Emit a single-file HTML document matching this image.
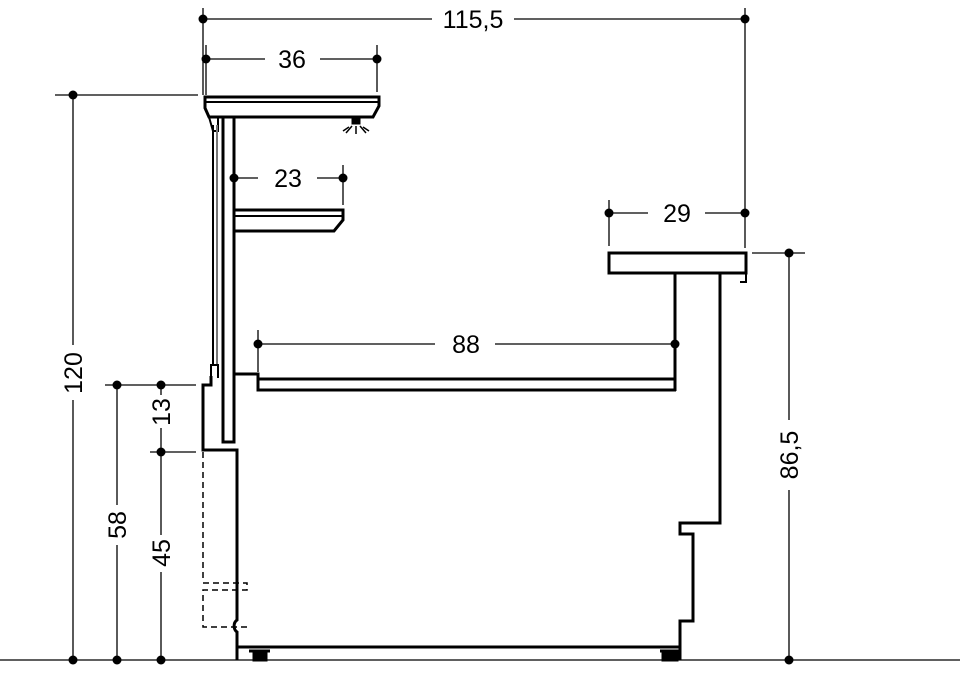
<!DOCTYPE html>
<html><head><style>html,body{margin:0;padding:0;background:#fff}svg{display:block}text{font-family:"Liberation Sans",Arial,sans-serif;font-size:25px;fill:#000}</style></head><body>
<svg width="960" height="680" viewBox="0 0 960 680" xmlns="http://www.w3.org/2000/svg">
<g stroke="#000" fill="none" stroke-width="1.3">
<line x1="0" y1="660" x2="960" y2="660"/>
<!-- top dim -->
<line x1="203" y1="19" x2="432" y2="19"/><line x1="514" y1="19" x2="745" y2="19"/>
<line x1="203" y1="8" x2="203" y2="95"/><line x1="745" y1="8" x2="745" y2="248"/>
<line x1="206" y1="59" x2="265" y2="59"/><line x1="320" y1="59" x2="377" y2="59"/>
<line x1="206" y1="45" x2="206" y2="95"/><line x1="377" y1="45" x2="377" y2="92"/>
<line x1="234" y1="178" x2="258" y2="178"/><line x1="317" y1="178" x2="343" y2="178"/>
<line x1="343" y1="165" x2="343" y2="205"/>
<line x1="258" y1="344" x2="435" y2="344"/><line x1="495" y1="344" x2="675" y2="344"/>
<line x1="258" y1="330" x2="258" y2="372"/>
<line x1="609" y1="213" x2="648" y2="213"/><line x1="705" y1="213" x2="745" y2="213"/>
<line x1="609" y1="200" x2="609" y2="246"/>
<!-- left dims -->
<line x1="55" y1="95" x2="198" y2="95"/>
<line x1="73" y1="95" x2="73" y2="345"/><line x1="73" y1="400" x2="73" y2="660"/>
<line x1="105" y1="385" x2="196" y2="385"/><line x1="150" y1="452" x2="196" y2="452"/>
<line x1="117" y1="385" x2="117" y2="505"/><line x1="117" y1="545" x2="117" y2="660"/>
<line x1="161" y1="385" x2="161" y2="395"/><line x1="161" y1="428" x2="161" y2="452"/>
<line x1="161" y1="452" x2="161" y2="535"/><line x1="161" y1="572" x2="161" y2="660"/>
<line x1="752" y1="253" x2="805" y2="253"/>
<line x1="789" y1="253" x2="789" y2="420"/><line x1="789" y1="490" x2="789" y2="660"/>
</g>
<g fill="#000">
<circle cx="203" cy="19" r="4.5"/><circle cx="745" cy="19" r="4.5"/>
<circle cx="206" cy="59" r="4.5"/><circle cx="377" cy="59" r="4.5"/>
<circle cx="234" cy="178" r="4.5"/><circle cx="343" cy="178" r="4.5"/>
<circle cx="258" cy="344" r="4.5"/><circle cx="675" cy="344" r="4.5"/>
<circle cx="609" cy="213" r="4.5"/><circle cx="745" cy="213" r="4.5"/>
<circle cx="73" cy="95" r="4.5"/><circle cx="73" cy="660" r="4.5"/>
<circle cx="117" cy="385" r="4.5"/><circle cx="117" cy="660" r="4.5"/>
<circle cx="161" cy="385" r="4.5"/><circle cx="161" cy="452" r="4.5"/><circle cx="161" cy="660" r="4.5"/>
<circle cx="789" cy="253" r="4.5"/><circle cx="789" cy="660" r="4.5"/>
</g>
<g>
<text x="473" y="28" text-anchor="middle">115,5</text>
<text x="292" y="68" text-anchor="middle">36</text>
<text x="288" y="187" text-anchor="middle">23</text>
<text x="466" y="353" text-anchor="middle">88</text>
<text x="677" y="222" text-anchor="middle">29</text>
<text transform="translate(82,373) rotate(-90)" text-anchor="middle">120</text>
<text transform="translate(126,525) rotate(-90)" text-anchor="middle">58</text>
<text transform="translate(170,412) rotate(-90)" text-anchor="middle">13</text>
<text transform="translate(170,553) rotate(-90)" text-anchor="middle">45</text>
<text transform="translate(798,455) rotate(-90)" text-anchor="middle">86,5</text>
</g>
<g stroke="#000" fill="none" stroke-width="3">
<!-- canopy -->
<path d="M205,97 L379,97 L379,106 L373,117 L209,117 L205,108 Z"/>
<line x1="205" y1="102" x2="379" y2="102" stroke-width="2"/>
<path d="M209,117 L213,131 L218,131 L218,117" stroke-width="2"/>
<!-- light -->
<rect x="352" y="119" width="8" height="5" fill="#000" stroke-width="1"/>
<g stroke-width="1.5"><line x1="356" y1="126" x2="356" y2="134"/><line x1="352" y1="126" x2="346" y2="133"/><line x1="360" y1="126" x2="366" y2="133"/><line x1="349" y1="127" x2="343" y2="131"/><line x1="363" y1="127" x2="369" y2="131"/></g>
<!-- post -->
<rect x="223" y="117" width="11" height="325"/>
<!-- glass -->
<line x1="213" y1="125" x2="213" y2="365" stroke-width="2"/>
<line x1="217" y1="125" x2="217" y2="365" stroke="#777" stroke-width="2"/>
<path d="M211,376 L211,365 L218,365 L218,378" stroke-width="2"/>
<!-- shelf -->
<path d="M234,210 L343,210 L343,220 L334,231 L234,231"/>
<line x1="234" y1="216" x2="343" y2="216" stroke-width="2"/>
<!-- deck -->
<path d="M234,374 L258,374 L258,390 L676,390"/>
<line x1="258" y1="379" x2="676" y2="379"/>
<!-- right counter -->
<rect x="609" y="253" width="137" height="20"/>
<path d="M746,273 L746,282 L740,282" stroke-width="2"/>
<line x1="675" y1="273" x2="675" y2="391"/>
<path d="M720,273 L720,523 L680,523 L680,534 L693,534 L693,621 L680,621 L680,660"/>
<!-- left base -->
<path d="M211,376 L211,385 L203,385 L203,450 L237,450 L237,620 A6,7 0 0 0 237,632 L237,660"/>
<line x1="237" y1="647" x2="680" y2="647"/>
<!-- feet -->
<line x1="249" y1="651" x2="270" y2="651"/>
<rect x="254" y="653" width="12" height="7" fill="#000"/>
<line x1="660" y1="651" x2="680" y2="651"/>
<rect x="663" y="653" width="14" height="7" fill="#000"/>
</g>
<g stroke="#000" fill="none" stroke-width="1.5" stroke-dasharray="6,4">
<line x1="203" y1="452" x2="203" y2="582"/>
<path d="M203,583 L247,583 L247,590 L203,590 L203,627 L247,627"/>
</g>
</svg>
</body></html>
